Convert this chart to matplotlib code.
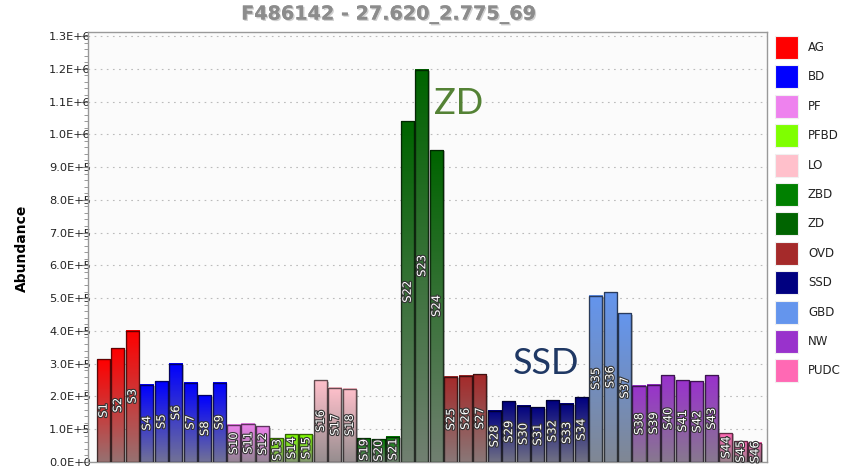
import matplotlib
matplotlib.use("Agg")
import matplotlib.pyplot as plt
import matplotlib.patheffects as pe
from matplotlib.patches import Rectangle
from matplotlib.ticker import MultipleLocator, FuncFormatter
import matplotlib.colors as mcolors
import numpy as np

# groups, their colours and how many samples each one holds
groups = ["AG", "BD", "PF", "PFBD", "LO", "ZBD", "ZD", "OVD", "SSD", "GBD", "NW", "PUDC"]
group_colors = ["#FF0000", "#0000FF", "#EE82EE", "#7FFF00", "#FFC0CB", "#008000",
                "#006400", "#A52A2A", "#000080", "#6495ED", "#9932CC", "#FF69B4"]
group_sizes = [3, 6, 3, 3, 3, 3, 3, 3, 7, 3, 6, 3]

samples = ["S%d" % (i + 1) for i in range(46)]
abundance = [3.14e5, 3.47e5, 4.01e5,
             2.36e5, 2.46e5, 3.00e5, 2.42e5, 2.03e5, 2.42e5,
             1.13e5, 1.16e5, 1.09e5,
             0.73e5, 0.85e5, 0.85e5,
             2.49e5, 2.27e5, 2.24e5,
             0.73e5, 0.69e5, 0.77e5,
             1.039e6, 1.197e6, 0.952e6,
             2.60e5, 2.63e5, 2.67e5,
             1.56e5, 1.85e5, 1.71e5, 1.67e5, 1.89e5, 1.78e5, 1.97e5,
             5.08e5, 5.18e5, 4.54e5,
             2.32e5, 2.36e5, 2.64e5, 2.50e5, 2.46e5, 2.64e5,
             0.88e5, 0.63e5, 0.59e5]

title = "F486142 - 27.620_2.775_69"

bar_colors = []
for c, n in zip(group_colors, group_sizes):
    bar_colors += [c] * n

fig = plt.figure(figsize=(8.45, 4.72), dpi=100)
ax = fig.add_axes([88 / 845, 1 - 462 / 472, (767 - 88) / 845, (462 - 31.7) / 472])
ax.set_facecolor("#FBFBFB")

w = 0.9
gray = np.array([0.52, 0.52, 0.52])
for i, (h, c) in enumerate(zip(abundance, bar_colors)):
    top = np.array(mcolors.to_rgb(c))
    bottom = 0.15 * top + 0.85 * gray
    t = np.linspace(0, 1, 64)[:, None]
    grad = (1 - t) * top + t * bottom
    # shadow
    ax.add_patch(Rectangle((i - w / 2 + 0.12, 0), w, h - 0.004e6, color="#000000",
                           alpha=0.25, lw=0, zorder=2))
    ax.imshow(grad[:, None, :], extent=(i - w / 2, i + w / 2, 0, h),
              aspect="auto", origin="upper", zorder=3, interpolation="bilinear")
    ax.add_patch(Rectangle((i - w / 2, 0), w, h, fill=False,
                           edgecolor=(0, 0, 0, 0.6), lw=1.0, zorder=4))
    ax.text(i, h / 2, samples[i], rotation=90, ha="center", va="center",
            color="white", fontsize=8.3, zorder=5,
            path_effects=[pe.withStroke(linewidth=1.6, foreground="#333333")])

ax.set_xlim(-1.05, 45.84)
ax.set_ylim(0, 1.313e6)

ax.yaxis.set_major_locator(MultipleLocator(1e5))
ax.yaxis.set_minor_locator(MultipleLocator(2e4))


def sci(v, pos):
    if v < 0:
        return ""
    if v == 0:
        return "0.0E+0"
    e = int(np.floor(np.log10(v) + 1e-9))
    return "%.1fE+%d" % (v / 10 ** e, e)


ax.yaxis.set_major_formatter(FuncFormatter(sci))
ax.tick_params(axis="y", which="major", length=5, color="#888888",
               labelsize=8.2, pad=-7, labelcolor="#222222")
ax.tick_params(axis="y", which="minor", length=3, color="#888888")
ax.tick_params(axis="x", bottom=False, labelbottom=False)
ax.grid(axis="y", which="major", linestyle=(0, (1.5, 4)), color="#BBBBBB", lw=0.8, zorder=1)
for s in ax.spines.values():
    s.set_color("#999999")
    s.set_linewidth(1)

ax.set_ylabel("Abundance", fontsize=10, fontweight="bold")
ax.yaxis.set_label_coords(-(88 - 29) / 679, (462 - 248) / 430.3)

fig.text(388 / 845, 1 - 15 / 472, title, ha="center", va="center", fontsize=13.8,
         fontweight="bold", color="#8C8C8C",
         path_effects=[pe.withSimplePatchShadow(offset=(1, -1), shadow_rgbFace="#D0D0D0", alpha=1.0),
                       pe.Normal()])

# group annotations
fig.text(459 / 845, 1 - 103 / 472, "ZD", fontsize=26, family="Lato", color="#548235",
         ha="center", va="center")
fig.text(546 / 845, 1 - 364 / 472, "SSD", fontsize=26, family="Lato", color="#1F3864",
         ha="center", va="center")

# legend on the right
for k, (g, c) in enumerate(zip(groups, group_colors)):
    y_top = 36 + 29.4 * k
    fig.patches.append(Rectangle((775 / 845, 1 - (y_top + 23) / 472), 23 / 845, 23 / 472,
                                 transform=fig.transFigure, facecolor=c,
                                 edgecolor="#F0F0F0", lw=0.8))
    fig.text(808 / 845, 1 - (y_top + 11.5) / 472, g, fontsize=8.5, color="#222222",
             ha="left", va="center")

fig.savefig("out.png", dpi=100)
